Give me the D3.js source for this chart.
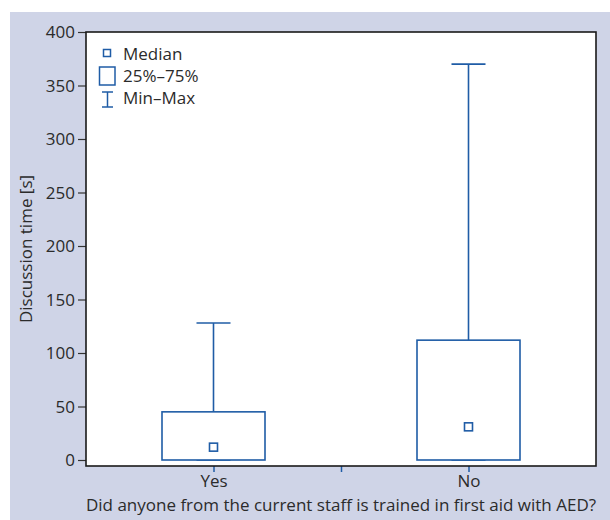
<!DOCTYPE html>
<html><head><meta charset="utf-8">
<script src="https://cdn.jsdelivr.net/npm/d3@7"></script>
<style>body{margin:0;background:#fff}svg{display:block}text{font-family:"Open Sans","Noto Sans",sans-serif;fill:#2b2b2b}</style>
</head><body><svg id="c" width="610" height="520"></svg>
<script>
const categories = ["Yes", "No"];
const minVals = [0, 0];
const q1Vals = [0, 0];
const medianVals = [12, 31];
const q3Vals = [45, 112];
const maxVals = [128, 370];
const yTicks = [0, 50, 100, 150, 200, 250, 300, 350, 400];
const legendLabels = ["Median", "25%\u201375%", "Min\u2013Max"];

const blue = "#1f5ca6";
const fs = 17;
const svg = d3.select("#c");
svg.append("rect").attr("x",10).attr("y",12).attr("width",600).attr("height",508).attr("fill","#cfd4e7");

const L=86,R=596,T=32,B=466;
svg.append("rect").attr("x",L).attr("y",T).attr("width",R-L).attr("height",B-T).attr("fill","#fff");

const y = d3.scaleLinear().domain([0,400]).range([460,32]);
const x = d3.scaleLinear().domain([0.5,2.5]).range([L,R]);
const bw = 103, cap = 34, ms = 8;

// y axis
const ya = svg.append("g").attr("transform",`translate(${L},0)`)
  .call(d3.axisLeft(y).tickValues(yTicks).tickSize(8).tickPadding(3));
ya.select(".domain").remove();
ya.selectAll("line").attr("stroke","#333").attr("stroke-width",1.2);
ya.selectAll("text").attr("font-size",fs).attr("fill","#2b2b2b").attr("font-family","'Open Sans',sans-serif").attr("dy","0.35em");

// x axis ticks
const xa = svg.append("g").attr("transform",`translate(0,${B})`)
  .call(d3.axisBottom(x).tickValues([1,1.5,2]).tickSize(6).tickPadding(3)
    .tickFormat(d => d===1?categories[0]:(d===2?categories[1]:"")));
xa.select(".domain").remove();
xa.selectAll("line").attr("stroke",blue).attr("stroke-width",1.5);
xa.selectAll("text").attr("font-size",fs).attr("fill","#2b2b2b").attr("font-family","'Open Sans',sans-serif");

// frame
svg.append("rect").attr("x",L).attr("y",T).attr("width",R-L).attr("height",B-T)
  .attr("fill","none").attr("stroke","#1a1a1a").attr("stroke-width",1.6);

// boxes
const g = svg.append("g").attr("stroke",blue).attr("stroke-width",1.6).attr("fill","none");
categories.forEach((c,i)=>{
  const cx = x(i+1);
  g.append("line").attr("x1",cx).attr("x2",cx).attr("y1",y(maxVals[i])).attr("y2",y(q3Vals[i]));
  g.append("line").attr("x1",cx-cap/2).attr("x2",cx+cap/2).attr("y1",y(maxVals[i])).attr("y2",y(maxVals[i]));
  g.append("line").attr("x1",cx-cap/2).attr("x2",cx+cap/2).attr("y1",y(minVals[i])).attr("y2",y(minVals[i]));
  g.append("rect").attr("x",cx-bw/2).attr("width",bw).attr("y",y(q3Vals[i])).attr("height",y(q1Vals[i])-y(q3Vals[i])).attr("fill","#fff");
  g.append("rect").attr("x",cx-ms/2).attr("y",y(medianVals[i])-ms/2).attr("width",ms).attr("height",ms).attr("fill","#fff");
});

// legend
const lg = svg.append("g");
lg.append("rect").attr("x",103.5).attr("y",49.5).attr("width",7).attr("height",7).attr("fill","#fff").attr("stroke",blue).attr("stroke-width",1.5);
lg.append("rect").attr("x",99.5).attr("y",67).attr("width",15.5).attr("height",18).attr("fill","#fff").attr("stroke",blue).attr("stroke-width",1.5);
lg.append("line").attr("x1",107.5).attr("x2",107.5).attr("y1",92).attr("y2",107).attr("stroke",blue).attr("stroke-width",1.5);
lg.append("line").attr("x1",102).attr("x2",113).attr("y1",92).attr("y2",92).attr("stroke",blue).attr("stroke-width",1.5);
lg.append("line").attr("x1",102).attr("x2",113).attr("y1",107).attr("y2",107).attr("stroke",blue).attr("stroke-width",1.5);
[55,77,99].forEach((yy,i)=>{
  lg.append("text").attr("x",123).attr("y",yy).attr("font-size",fs).attr("dominant-baseline","middle").text(legendLabels[i]);
});

// axis titles
svg.append("text").attr("x",341).attr("y",511).attr("text-anchor","middle").attr("font-size",fs)
  .text("Did anyone from the current staff is trained in first aid with AED?");
svg.append("text").attr("transform","translate(32,249) rotate(-90)").attr("text-anchor","middle").attr("font-size",fs)
  .text("Discussion time [s]");
</script></body></html>
